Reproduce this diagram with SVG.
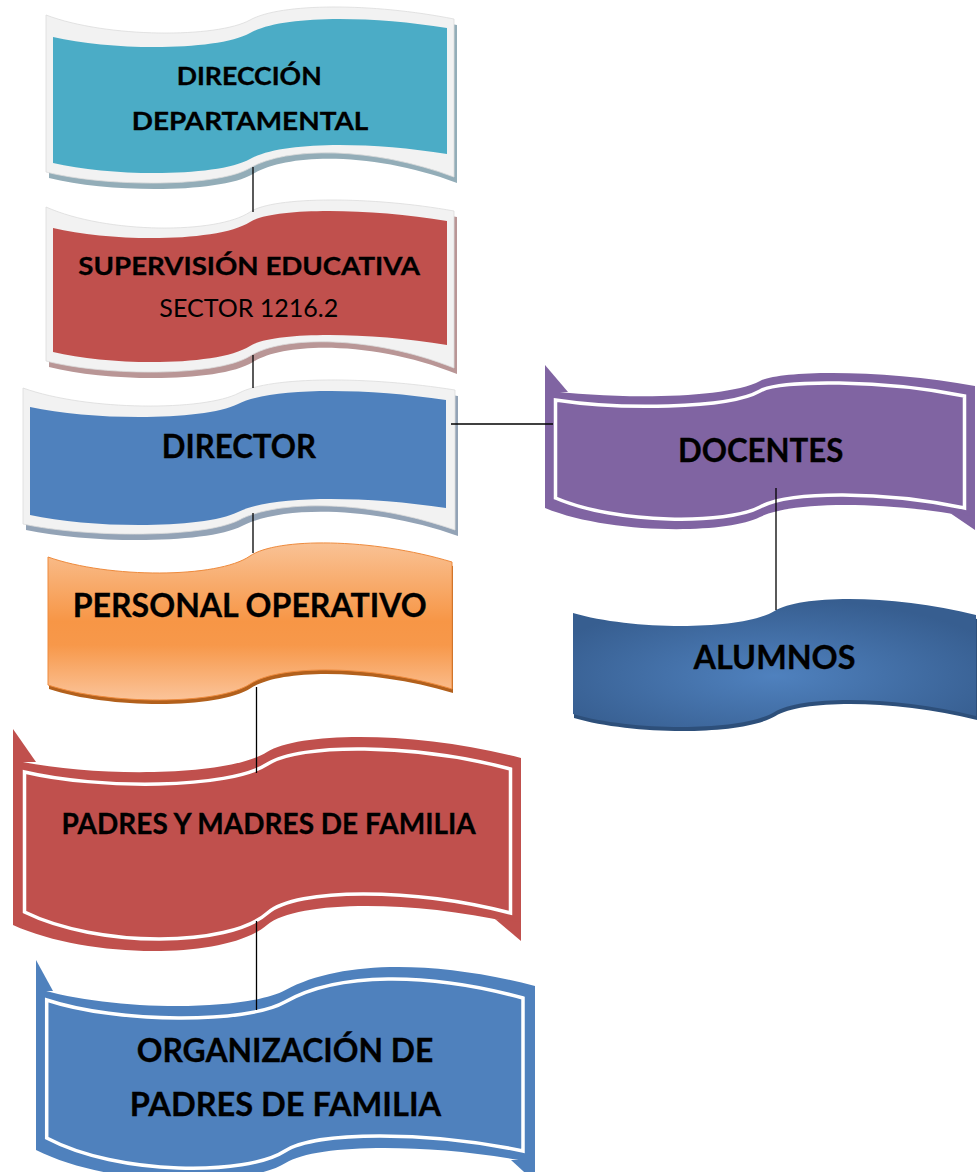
<svg xmlns="http://www.w3.org/2000/svg" width="979" height="1172" viewBox="0 0 979 1172">
<defs>
<linearGradient id="gOrange" x1="0" y1="0" x2="0" y2="1">
<stop offset="0" stop-color="#f9c295"/>
<stop offset="0.5" stop-color="#f79646"/>
<stop offset="0.65" stop-color="#f7984a"/>
<stop offset="1" stop-color="#fbc49a"/>
</linearGradient>
<radialGradient id="gAlumnos" cx="0.5" cy="0.6" r="0.6">
<stop offset="0" stop-color="#4f81be"/>
<stop offset="1" stop-color="#375e90"/>
</radialGradient>
</defs>
<style>
.bevel{fill:#f2f2f2;stroke:#dcdcdc;stroke-width:0.8}
.t{font-family:Lato,"Liberation Sans",sans-serif;font-weight:700;fill:#000;stroke:#000;stroke-width:0.3;text-anchor:middle}
.r{font-weight:400;stroke-width:0}
.inner{stroke:#fff;stroke-width:3.5}
.conn{stroke:#000;stroke-width:1.3;fill:none}
.teal{fill:#4bacc6}
.red{fill:#c0504d}
.blue{fill:#4f81bd}
.purple{fill:#8064a2}
</style>

<g id="node-direccion">
<path fill="#93adb8" transform="translate(3,6)" d="M46,15 C107.2,38.17 217.4,38.17 250,20 C280.8,2.83 372.4,2.83 454,19 L454,177 C372.4,146.5 286.2,146.5 250,168 C217.4,187.33 107.2,187.33 46,172 Z"/>
<path class="bevel" d="M46,15 C107.2,38.17 217.4,38.17 250,20 C280.8,2.83 372.4,2.83 454,19 L454,177 C372.4,146.5 286.2,146.5 250,168 C217.4,187.33 107.2,187.33 46,172 Z"/>
<path class="teal" d="M53,37 C112.1,51 218.5,51 250,33 C281.2,15.17 368.2,15.17 447,28 L447,154 C368.2,141.17 281.2,141.17 250,159 C218.5,177 112.1,177 53,163 Z"/>
<text class="t" x="249.2" y="85" font-size="25.5" textLength="145" lengthAdjust="spacingAndGlyphs">DIRECCIÓN</text>
<text class="t" x="250" y="130" font-size="25.5" textLength="236.6" lengthAdjust="spacingAndGlyphs">DEPARTAMENTAL</text>
</g>

<g id="node-supervision">
<path fill="#b99696" transform="translate(3,6)" d="M46,207 C107.2,234.17 217.4,234.17 250,212 C273.3,196.17 372.4,196.17 454,211 L454,368 C372.4,335.33 282.9,335.33 250,356 C217.4,376.5 107.2,376.5 46,361 Z"/>
<path class="bevel" d="M46,207 C107.2,234.17 217.4,234.17 250,212 C273.3,196.17 372.4,196.17 454,211 L454,368 C372.4,335.33 282.9,335.33 250,356 C217.4,376.5 107.2,376.5 46,361 Z"/>
<path class="red" d="M53,228 C112.1,242.33 218.5,242.33 250,222 C272.5,207.5 368.2,207.5 447,221 L447,345 C368.2,331.5 272.5,331.5 250,346 C218.5,366.33 112.1,366.33 53,352 Z"/>
<text class="t" x="249.2" y="275" font-size="25.5" textLength="341.7" lengthAdjust="spacingAndGlyphs">SUPERVISIÓN EDUCATIVA</text>
<text class="t r" x="248.8" y="317.3" font-size="24.5" textLength="179" lengthAdjust="spacingAndGlyphs">SECTOR 1216.2</text>
</g>

<g id="node-director">
<path fill="#93a3b6" transform="translate(3,6)" d="M23,388 C87.8,411.17 204.4,411.17 239,393 C271,376.17 368.6,376.17 455,390 L455,530 C368.6,499.67 278.1,499.67 239,520 C204.4,538 87.8,538 23,524 Z"/>
<path class="bevel" d="M23,388 C87.8,411.17 204.4,411.17 239,393 C271,376.17 368.6,376.17 455,390 L455,530 C368.6,499.67 278.1,499.67 239,520 C204.4,538 87.8,538 23,524 Z"/>
<path class="blue" d="M30,407 C92.4,420.83 204.7,420.83 238,404 C271,387.33 362.8,387.33 446,400 L446,508 C362.8,495.33 271,495.33 238,512 C204.7,528.83 92.4,528.83 30,515 Z"/>
<text class="t" x="238.9" y="458.3" font-size="32.5" textLength="154.3" lengthAdjust="spacingAndGlyphs">DIRECTOR</text>
</g>

<g id="node-personal">
<path fill="#b2601c" transform="translate(1,4)" d="M48,557 C108.6,578.5 217.7,578.5 250,556 C276.3,537.67 371.2,537.67 452,562 L452,689 C371.2,664.5 279.7,664.5 250,684 C217.7,705.17 108.6,705.17 48,685 Z"/>
<path fill="url(#gOrange)" stroke="#ee8a3c" stroke-width="1" d="M48,557 C108.6,578.5 217.7,578.5 250,556 C276.3,537.67 371.2,537.67 452,562 L452,689 C371.2,664.5 279.7,664.5 250,684 C217.7,705.17 108.6,705.17 48,685 Z"/>
<text class="t" x="249.7" y="616.7" font-size="32.5" textLength="354" lengthAdjust="spacingAndGlyphs">PERSONAL OPERATIVO</text>
</g>

<g id="node-docentes">
<path class="purple" d="M545,390 C609.5,399.5 725.6,399.5 760,381 C781.4,369.5 889,369.5 975,386 L975,518 C889,500.83 791.8,500.83 760,517 C725.6,534.5 609.5,534.5 545,508 Z"/>
<polygon class="purple" points="545,365 545,392 568,392"/>
<polygon class="purple" points="950,513 975,516 975,530"/>
<path class="purple inner" d="M555.5,400 C616.9,409.5 727.3,409.5 760,391 C780.3,379.5 882.7,379.5 964.5,396 L964.5,508 C882.7,490.83 790.2,490.83 760,507 C727.3,524.5 616.9,524.5 555.5,498 Z"/>
<text class="t" x="760.7" y="462.4" font-size="33" textLength="165.5" lengthAdjust="spacingAndGlyphs">DOCENTES</text>
</g>

<g id="node-alumnos">
<path fill="#2d4f7a" transform="translate(1,4)" d="M573,613 C633.5,630.67 742.3,630.67 774.5,611 C801.8,594.33 895.4,594.33 976,615 L976,716 C895.4,695.33 801.8,695.33 774.5,712 C742.3,731.67 633.5,731.67 573,714 Z"/>
<path fill="url(#gAlumnos)" d="M573,613 C633.5,630.67 742.3,630.67 774.5,611 C801.8,594.33 895.4,594.33 976,615 L976,716 C895.4,695.33 801.8,695.33 774.5,712 C742.3,731.67 633.5,731.67 573,714 Z"/>
<text class="t" x="774.5" y="668.6" font-size="32.5" textLength="162" lengthAdjust="spacingAndGlyphs">ALUMNOS</text>
</g>

<g id="node-padres">
<path class="red" d="M13,760 C89.2,777.33 226.4,777.33 267,752 C300.7,731 419.4,731 521,758 L521,925 C419.4,899.67 296.7,899.67 267,925 C226.4,959.67 89.2,959.67 13,925 Z"/>
<polygon class="red" points="13,729 13,762 36,762"/>
<polygon class="red" points="495,919 521,922 521,941"/>
<path class="red inner" d="M24.5,772 C97.4,789.33 228.6,789.33 267.5,764 C299.5,743.17 413.3,743.17 510.5,769 L510.5,913 C413.3,887.67 295.8,887.67 267.5,913 C228.6,947.83 97.4,947.83 24.5,912 Z"/>
<text class="t" x="268.7" y="833.5" font-size="29" textLength="414.2" lengthAdjust="spacingAndGlyphs">PADRES Y MADRES DE FAMILIA</text>
</g>

<g id="node-organizacion">
<path class="blue" d="M36,988 C110.9,1011.67 245.6,1011.67 285.5,990 C340.7,960 435.2,960 535,986 L535,1163 C435.2,1143 317.6,1143 285.5,1163 C245.6,1187.83 110.9,1187.83 36,1150 Z"/>
<polygon class="blue" points="36,960 36,991 53,991"/>
<polygon class="blue" points="511,1160 535,1160 535,1182"/>
<path class="blue inner" d="M46.7,1000 C118.1,1023.67 246.7,1023.67 284.9,1002 C337.8,972 427.7,972 523,998 L523,1151 C427.7,1131 315.7,1131 284.9,1151 C246.7,1175.83 118.1,1175.83 46.7,1138 Z"/>
<text class="t" x="285" y="1061.6" font-size="32" textLength="296.5" lengthAdjust="spacingAndGlyphs">ORGANIZACIÓN DE</text>
<text class="t" x="285.5" y="1116" font-size="32" textLength="311.4" lengthAdjust="spacingAndGlyphs">PADRES DE FAMILIA</text>
</g>

<g id="connectors" class="conn">
<line x1="253" y1="167" x2="253" y2="212"/>
<line x1="253" y1="355" x2="253" y2="388"/>
<line x1="253" y1="513" x2="253" y2="553"/>
<line x1="256.5" y1="687" x2="256.5" y2="773"/>
<line x1="256.5" y1="921" x2="256.5" y2="1010"/>
<line x1="451" y1="424" x2="553" y2="424"/>
<line x1="776" y1="488" x2="776" y2="610"/>
</g>
</svg>
